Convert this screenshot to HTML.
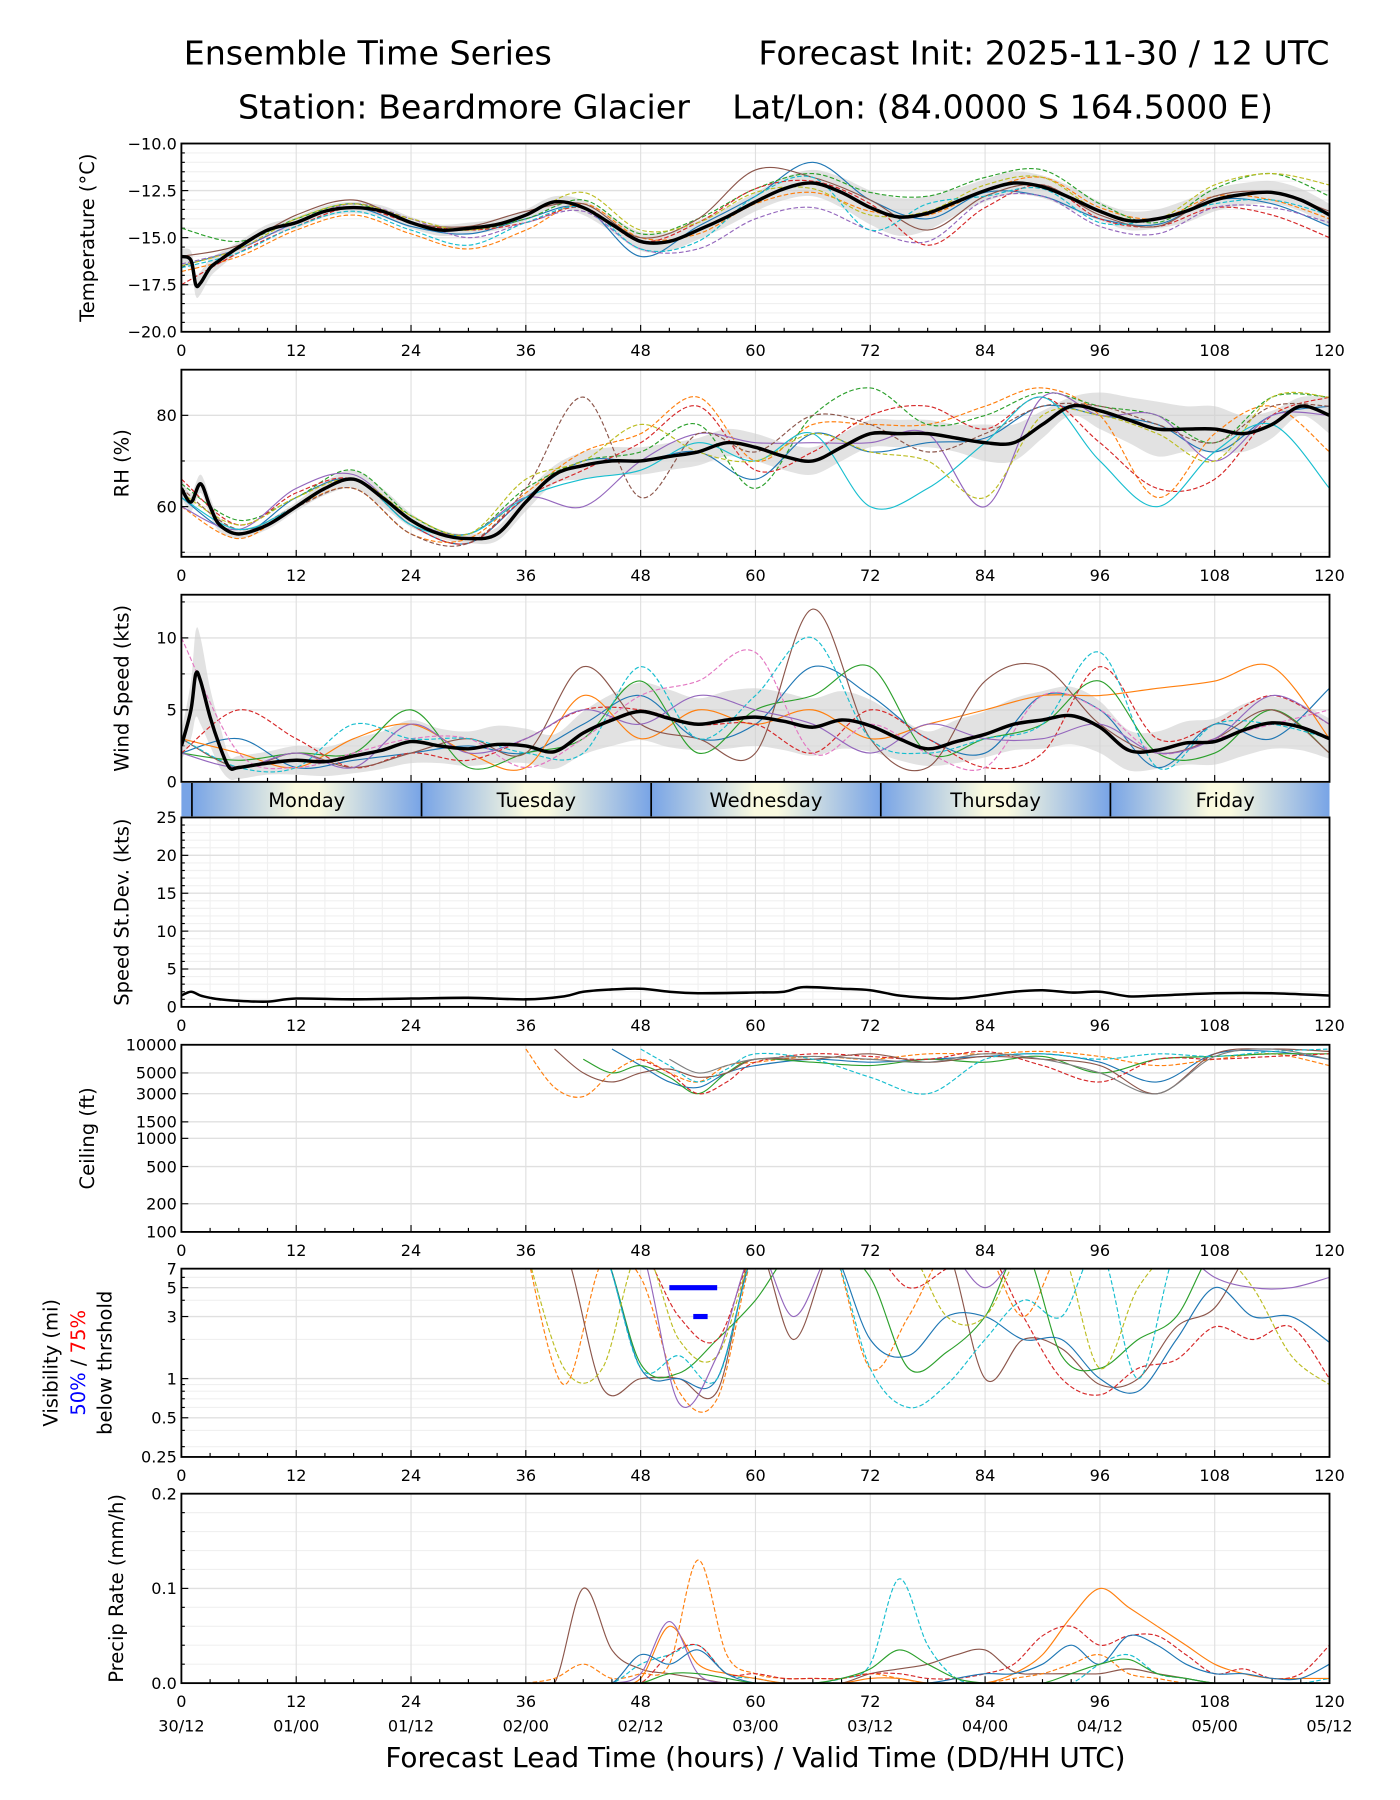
<!DOCTYPE html>
<html><head><meta charset="utf-8"><style>
html,body{margin:0;padding:0;background:#fff;}
svg{display:block;font-family:"DejaVu Sans","Liberation Sans",sans-serif;}
</style></head><body>
<svg id="fig" xmlns="http://www.w3.org/2000/svg" width="1400" height="1800" viewBox="0 0 1219.4 1567.8" preserveAspectRatio="none">
<rect x="0" y="0" width="1220" height="1568" fill="#fff"/>
<defs>
<linearGradient id="dayg" x1="0" x2="1" y1="0" y2="0">
<stop offset="0" stop-color="#78a4e6"/><stop offset="0.45" stop-color="#fafae0"/><stop offset="0.55" stop-color="#fafae0"/><stop offset="1" stop-color="#78a4e6"/>
</linearGradient>
</defs>
<text x="160" y="56" font-size="29">Ensemble Time Series</text>
<text x="1158" y="56" font-size="29" text-anchor="end">Forecast Init: 2025-11-30 / 12 UTC</text>
<text x="658" y="103" font-size="29" text-anchor="middle" xml:space="preserve">Station: Beardmore Glacier    Lat/Lon: (84.0000 S 164.5000 E)</text>
<text x="658" y="1539" font-size="24.3" text-anchor="middle">Forecast Lead Time (hours) / Valid Time (DD/HH UTC)</text>
<g id="plots"></g>
</svg>
<script>
const COLORS=['#1f77b4','#ff7f0e','#2ca02c','#d62728','#9467bd','#8c564b','#e377c2','#7f7f7f','#bcbd22','#17becf'];
// ---------- Data ----------
const xTicks=[0,12,24,36,48,60,72,84,96,108,120];
const dateLabels=['30/12','01/00','01/12','02/00','02/12','03/00','03/12','04/00','04/12','05/00','05/12'];
const dayNames=['Monday','Tuesday','Wednesday','Thursday','Friday'];
const dayStarts=[1.1,25.1,49.1,73.1,97.1,121.1];
const h6=[0,6,12,18,24,30,36,42,48,54,60,66,72,78,84,90,96,102,108,114,120];

const tempHours=[0,1,1.5,2,3,4,6,9,12,15,18,21,24,27,30,33,36,39,42,45,48,51,54,57,60,63,66,69,72,75,78,81,84,87,90,93,96,99,102,105,108,111,114,117,120];
const tempMean=[-16,-16.2,-17.5,-17.4,-16.6,-16.2,-15.5,-14.6,-14.2,-13.6,-13.4,-13.6,-14.2,-14.6,-14.5,-14.3,-13.8,-13.1,-13.4,-14.3,-15.2,-15.2,-14.6,-13.9,-13.1,-12.4,-12.1,-12.6,-13.4,-13.9,-13.7,-13.1,-12.5,-12.1,-12.3,-12.9,-13.6,-14.1,-14.0,-13.6,-13.0,-12.7,-12.6,-13.0,-13.8];
const tempSpread=[0.4,0.5,0.6,0.6,0.5,0.4,0.3,0.3,0.3,0.3,0.3,0.3,0.3,0.3,0.3,0.3,0.3,0.3,0.4,0.4,0.5,0.5,0.5,0.5,0.5,0.6,0.7,0.8,0.9,1.0,0.9,0.7,0.6,0.6,0.6,0.6,0.5,0.5,0.5,0.6,0.6,0.6,0.6,0.6,0.6];
const tempMembers=[
[-16.5,-15.6,-14.2,-13.4,-14.4,-14.8,-14.0,-13.4,-16.0,-14.4,-12.8,-11.0,-13.0,-14.0,-12.6,-12.8,-14.0,-14.3,-13.0,-13.2,-14.4],
[-16.8,-16.0,-14.6,-13.8,-14.8,-15.6,-14.6,-13.2,-15.0,-14.8,-13.2,-12.6,-13.6,-13.8,-12.5,-11.8,-13.4,-14.0,-12.8,-13.0,-14.0],
[-14.5,-15.2,-14.0,-13.2,-14.2,-14.6,-14.0,-13.0,-14.8,-14.0,-12.4,-11.6,-12.6,-12.8,-11.8,-11.4,-13.2,-14.2,-12.4,-11.6,-12.8],
[-17.5,-15.8,-14.4,-13.4,-14.2,-14.6,-14.2,-13.4,-15.2,-14.2,-12.4,-12.0,-13.2,-15.4,-13.4,-12.2,-14.0,-14.4,-13.4,-13.8,-15.0],
[-16.4,-15.6,-14.2,-13.2,-14.0,-15.0,-14.2,-13.6,-15.6,-15.6,-14.0,-13.4,-14.6,-15.2,-13.0,-12.8,-14.4,-14.8,-13.4,-13.4,-14.2],
[-16.0,-15.4,-13.8,-13.0,-14.2,-14.4,-13.6,-13.2,-15.0,-14.0,-11.4,-11.8,-13.0,-14.6,-12.8,-12.2,-13.8,-14.4,-12.8,-12.6,-13.6],
[-16.5,-15.6,-14.0,-13.2,-14.0,-14.6,-13.8,-12.6,-14.6,-14.2,-12.6,-12.4,-13.8,-13.6,-12.2,-11.8,-13.6,-14.0,-12.2,-11.6,-12.2],
[-16.6,-15.8,-14.4,-13.6,-14.6,-15.4,-14.2,-13.4,-15.6,-15.2,-12.8,-11.8,-14.6,-13.2,-12.8,-12.4,-14.2,-14.0,-13.2,-13.0,-13.8]];
const tempColors=[0,1,2,3,4,5,8,9];
const tempDash=[0,1,1,1,1,0,1,1];

const rhHours=[0,1,2,3,4,6,9,12,15,18,21,24,27,30,33,36,39,42,45,48,51,54,57,60,63,66,69,72,75,78,81,84,87,90,93,96,99,102,105,108,111,114,117,120];
const rhMean=[64,61,65,60,56,54,56,60,64,66,62,57,54,53,54,61,67,69,70,70,71,72,74,73,71,70,73,76,76,76,75,74,74,78,82,81,79,77,77,77,76,78,82,80];
const rhSpread=[2,2,2,2,1.5,1,1,1,1.5,2,2,1.5,1,1,1.5,2,2,3,3,3,3,3,3,3,3,3,3,3,3,3,3,4,4,3,2,4,5,6,5,5,4,3,2,4];
const rhMembers=[
[62,54,62,66,56,52,62,70,70,72,66,76,72,74,75,82,80,78,72,80,82],
[60,53,60,64,54,53,63,72,76,84,70,78,78,78,82,86,80,62,76,82,72],
[65,57,62,68,58,54,64,70,72,78,64,80,86,78,80,85,82,80,74,84,84],
[66,56,63,66,56,52,62,68,74,82,68,72,80,82,77,84,74,64,66,80,84],
[60,55,64,67,57,54,62,60,70,76,74,74,74,76,60,84,80,80,70,80,80],
[64,55,60,64,54,52,64,84,62,76,72,80,78,72,76,82,82,78,74,82,82],
[62,55,60,66,56,54,62,66,68,74,70,76,60,64,74,84,70,60,72,78,64],
[63,56,62,66,58,54,66,70,78,72,70,76,72,70,62,80,80,76,70,84,84]];
const rhColors=[0,1,2,3,4,5,9,8];
const rhDash=[0,1,1,1,0,1,0,1];

const windHours=[0,1,1.5,2,3,4,5,6,9,12,15,18,21,24,27,30,33,36,39,42,45,48,51,54,57,60,63,66,69,72,75,78,81,84,87,90,93,96,99,102,105,108,111,114,117,120];
const windMean=[2.5,5,7.5,7,4.5,2.5,1,1,1.3,1.5,1.4,1.8,2.2,2.8,2.5,2.3,2.6,2.5,2.1,3.4,4.3,4.9,4.4,4.0,4.3,4.5,4.2,3.8,4.3,3.9,3.0,2.3,2.8,3.3,4.0,4.3,4.6,3.8,2.2,2.2,2.7,2.8,3.6,4.1,3.8,3.0];
const windSpread=[1,2,3,3,2,1.5,0.8,0.8,0.8,1,1,1.2,1.3,1.5,1.2,1.2,1.3,1.2,1.2,1.5,1.8,2,2,1.8,2,2,2,2,2,1.8,1.5,1.2,1.5,1.6,1.8,2,2,1.8,1.4,1.3,1.5,1.6,1.8,1.8,1.6,1.4];
const windMembers=[
[2,3,1,1.5,2,2.5,2,4,6,3,4,8,6,3,2,6,5,1,4,3,6.5],
[3,2,1,3,4,2,1,6,3,5,4,5,3,4,5,6,6,6.5,7,8,3],
[2,1.5,2,2,5,1,2,3,7,2,5,6,8,2,3,4,7,2,2,5,2],
[2,5,3,1,2,1.5,3,5,5,4,4,2,5,3,1,2,8,3,4,6,4],
[10,2,1,2,3,3,1,3,6,7,9,2,4,2,1,6,5,2,3,4,5],
[3,1,2,1,2,3,2,8,4,3,2,12,3,1,7,8,4,2,3,5,2],
[3,1,1,4,3,3,2,2,8,3,6,10,3,2,3,4,9,1,4,4,3],
[2,1,2,1,4,2,3,5,4,6,5,4,2,4,3,3,4,2,3,6,4]];
const windColors=[0,1,2,3,6,5,9,4];
const windDash=[0,0,0,1,1,0,1,0];

const sdHours=[0,1,2,3,4,6,9,12,18,24,30,36,40,42,45,48,51,54,60,63,65,69,72,75,78,81,84,87,90,93,96,99,102,108,114,120];
const sdValues=[1.5,2,1.5,1.2,1.0,0.8,0.7,1.1,1.0,1.1,1.2,1.0,1.4,2.0,2.3,2.4,2.0,1.8,1.9,2.0,2.6,2.4,2.2,1.5,1.2,1.1,1.5,2.0,2.2,1.9,2.0,1.4,1.5,1.8,1.8,1.5];

const ceilHours=[36,39,42,45,48,51,54,57,60,66,72,78,84,90,96,102,108,114,120];
const ceilMembers=[
[null,null,null,9000,6000,4000,3500,5000,6000,7000,6500,7000,7500,8000,6500,4000,8000,8500,7000],
[9000,3500,2800,5000,7000,5000,4000,6000,6500,7500,7000,8000,8000,8500,7500,6000,7000,8000,6000],
[null,null,7000,5000,6000,4500,3000,5000,7000,6500,6000,7000,6500,7500,5000,7000,7500,8000,8000],
[null,null,null,null,7000,5000,3000,4000,6500,8000,7500,7000,8500,6000,4000,7000,7000,7500,8000],
[null,9000,5000,4000,5000,5500,4500,5000,7000,7000,8000,6500,7500,7000,6000,3000,8000,9000,8500],
[null,null,null,null,9000,6000,4000,5500,8000,7000,4500,3000,7000,8000,7000,8000,7500,8500,9000],
[null,null,null,null,null,7000,5000,6000,7000,7500,7000,6500,8000,7000,5000,3000,7500,9000,7000]];
const ceilColors=[0,1,2,3,5,9,7];
const ceilDash=[0,1,0,1,0,1,0];

const visHours=[36,40,44,48,52,56,60,64,68,72,76,80,84,88,92,96,100,104,108,112,116,120];
const visMembers=[
[10,0.9,8,6,0.8,0.7,10,10,10,1.2,3,10,10,3,10,10,10,10,10,10,10,10],
[10,10,0.85,1.0,1.0,0.8,10,2,10,10,10,10,1.0,2,1.7,0.9,1.0,2.5,3.5,10,10,10],
[10,10,10,1.3,1.1,2,4,10,10,6,1.2,1.6,3,10,1.5,1.2,2,3,10,10,10,10],
[10,10,10,1.2,1.0,1.0,10,10,10,2,1.5,3,3,2,2,1.0,0.8,2,5,3,3,1.9],
[10,10,10,1.2,1.5,1.0,10,10,10,1.2,0.6,0.9,2,4,3,10,1.0,10,10,10,10,10],
[10,10,10,10,3,2,10,10,10,10,5,7,10,3,1.0,0.75,1.2,1.4,2.5,2,2.5,1.0],
[10,1.2,1.2,10,2,1.5,10,10,10,10,10,3,3,10,10,1.2,5,10,10,5,1.5,0.9],
[10,10,10,10,0.65,1.5,10,3,10,10,10,10,5,10,10,10,10,10,6,5,5,6]];
const visColors=[1,5,2,0,9,3,8,4];
const visDash=[1,0,0,0,1,1,1,0];
const vis50Hours=[51,56];
const vis50Value=[5];
const vis75Hours=[53.5,55];
const vis75Value=[3];

const prHours=[36,39,42,45,48,51,54,57,60,63,66,69,72,75,78,81,84,87,90,93,96,99,102,105,108,111,114,117,120];
const prMembers=[
[0,0,0.1,0.035,0.015,0.01,0.005,0,0,0,0,0,0.01,0.015,0.02,0.03,0.035,0.012,0.01,0.01,0.01,0.015,0.01,0.005,0,0,0,0,0],
[0,0.005,0.02,0.005,0.01,0.02,0.13,0.03,0.01,0.005,0.005,0.005,0.01,0.005,0,0,0,0.005,0.01,0.02,0.03,0.01,0.005,0,0,0,0,0,0],
[0,0,0,0,0.02,0.03,0.04,0.01,0.005,0,0,0.005,0.02,0.11,0.04,0.005,0,0,0,0,0.02,0.03,0.01,0.005,0,0,0,0,0.005],
[0,0,0,0,0.005,0.06,0.02,0.01,0.005,0,0,0,0.005,0.005,0,0,0,0.01,0.03,0.07,0.1,0.08,0.06,0.04,0.02,0.01,0.005,0.005,0.005],
[0,0,0,0,0,0.03,0.04,0.01,0.01,0.005,0.005,0.005,0.01,0.01,0.005,0.005,0.01,0.02,0.05,0.06,0.04,0.05,0.05,0.03,0.01,0.015,0.005,0.01,0.04],
[0,0,0,0,0.01,0.065,0.01,0,0,0,0,0,0,0,0,0,0,0,0,0,0,0,0,0,0,0,0,0,0],
[0,0,0,0,0.03,0.02,0.035,0.01,0,0,0,0,0,0,0,0.005,0.01,0.01,0.02,0.04,0.02,0.05,0.04,0.02,0.01,0.01,0.005,0.005,0.02],
[0,0,0,0,0,0.01,0.01,0.005,0,0,0,0.005,0.015,0.035,0.02,0.005,0,0,0,0.01,0.02,0.025,0.01,0.005,0,0,0,0,0]];
const prColors=[5,1,9,1,3,4,0,2];
const prDash=[0,1,1,0,1,0,0,0];

// ---------- Rendering ----------
const NS='http://www.w3.org/2000/svg';
const root=document.getElementById('plots');
const X0=158,X1=1158;
const xs=h=>X0+h*(X1-X0)/120;
function el(tag,attrs,parent){const e=document.createElementNS(NS,tag);for(const k in attrs)e.setAttribute(k,attrs[k]);(parent||root).appendChild(e);return e;}
function smooth(pts){
  if(pts.length<2)return '';
  let d='M'+pts[0][0].toFixed(1)+','+pts[0][1].toFixed(1);
  for(let i=0;i<pts.length-1;i++){
    const p0=pts[i-1]||pts[i],p1=pts[i],p2=pts[i+1],p3=pts[i+2]||p2;
    const c1x=p1[0]+(p2[0]-p0[0])/6,c1y=p1[1]+(p2[1]-p0[1])/6;
    const c2x=p2[0]-(p3[0]-p1[0])/6,c2y=p2[1]-(p3[1]-p1[1])/6;
    d+='C'+c1x.toFixed(1)+','+c1y.toFixed(1)+' '+c2x.toFixed(1)+','+c2y.toFixed(1)+' '+p2[0].toFixed(1)+','+p2[1].toFixed(1);
  }
  return d;
}
function segments(hours,vals,ys){
  const segs=[];let cur=[];
  hours.forEach((h,i)=>{const v=vals[i];if(v===null){if(cur.length)segs.push(cur);cur=[];}else cur.push([xs(h),ys(v)]);});
  if(cur.length)segs.push(cur);
  return segs.map(smooth).join(' ');
}
let clipN=0;
function panel(cfg){
  const g=el('g',{});
  
  
  const H=cfg.y1-cfg.y0;
  let ys;
  if(cfg.log){const a=Math.log(cfg.min),b=Math.log(cfg.max);ys=v=>cfg.y1-(Math.log(v)-a)/(b-a)*H;}
  else ys=v=>cfg.y1-(v-cfg.min)/(cfg.max-cfg.min)*H;
  (cfg.minor||[]).forEach(v=>{el('line',{x1:X0,x2:X1,y1:ys(v),y2:ys(v),stroke:'#f0f0f0','stroke-width':1},g);
    el('line',{x1:X0,x2:X0+3,y1:ys(v),y2:ys(v),stroke:'#000','stroke-width':1},g);});
  if(cfg.vminor){for(let h=3;h<120;h+=3){if(h%12)el('line',{x1:xs(h),x2:xs(h),y1:cfg.y0,y2:cfg.y1,stroke:'#f0f0f0','stroke-width':1},g);}}
  xTicks.forEach(h=>{if(h>0&&h<120)el('line',{x1:xs(h),x2:xs(h),y1:cfg.y0,y2:cfg.y1,stroke:'#e0e0e0','stroke-width':1},g);});
  cfg.ticks.forEach(v=>{const y=ys(v);if(y>cfg.y0+1&&y<cfg.y1-1)el('line',{x1:X0,x2:X1,y1:y,y2:y,stroke:'#e0e0e0','stroke-width':1.2},g);});
  const cid='clip'+(clipN++);
  const cp=el('clipPath',{id:cid},g);el('rect',{x:X0,y:cfg.y0,width:X1-X0,height:H},cp);
  const dg=el('g',{'clip-path':'url(#'+cid+')'},g);
  if(cfg.draw)cfg.draw(dg,ys);
  for(let h=3;h<120;h+=3){const big=h%12===0;
    el('line',{x1:xs(h),x2:xs(h),y1:cfg.y1,y2:cfg.y1-(big?6:3.5),stroke:'#000','stroke-width':1},g);}
  cfg.ticks.forEach(v=>{const y=ys(v);el('line',{x1:X0,x2:X0+6,y1:y,y2:y,stroke:'#000','stroke-width':1},g);
    const t=el('text',{x:X0-4,y:y+5,'font-size':14,'text-anchor':'end'},g);t.textContent=(cfg.fmt?cfg.fmt(v):String(v)).replace('-','\u2212');
    
    });
  el('rect',{x:X0,y:cfg.y0,width:X1-X0,height:H,fill:'none',stroke:'#000','stroke-width':1.6},g);
  if(cfg.xlabels){xTicks.forEach(h=>{const t=el('text',{x:xs(h),y:cfg.y1+21,'font-size':14,'text-anchor':'middle'},g);t.textContent=h;
    
    });}
  if(cfg.label){cfg.label.forEach(l=>{const t=el('text',{transform:'translate('+l.x+','+((cfg.y0+cfg.y1)/2)+') rotate(-90)','font-size':17,'text-anchor':'middle'},g);
    t.innerHTML=l.html;
    
    });}
  return ys;
}
function members(g,ys,hours,list,colors,dash,name){
  list.forEach((m,i)=>{const p=el('path',{d:segments(hours,m,ys),fill:'none',stroke:COLORS[colors[i]],'stroke-width':1,'stroke-dasharray':dash[i]?'4,2':'none'},g);
    
    });
}
function meanBand(g,ys,hours,mean,spread,name){
  const up=hours.map((h,i)=>[xs(h),ys(mean[i]+spread[i])]);
  const lo=hours.map((h,i)=>[xs(h),ys(mean[i]-spread[i])]).reverse();
  const band=el('path',{d:smooth(up)+' L'+smooth(lo).slice(1)+'Z',fill:'#cfcfcf','fill-opacity':0.6,stroke:'none'},g);
  
  
  return ()=>{const p=el('path',{d:segments(hours,mean,ys),fill:'none',stroke:'#000','stroke-width':3},g);
    
    };
}
const mkMinor=(a,b,s)=>{const r=[];for(let v=a;v<=b+1e-9;v+=s)r.push(+v.toFixed(4));return r;};

panel({name:'temperature',y0:125,y1:289,min:-20,max:-10,ticks:[-20,-17.5,-15,-12.5,-10],minor:mkMinor(-20,-10,0.5),fmt:v=>v.toFixed(1),xlabels:true,
  label:[{x:82,html:'Temperature (°C)'}],
  draw:(g,ys)=>{const fin=meanBand(g,ys,tempHours,tempMean,tempSpread,'temperature');members(g,ys,h6,tempMembers,tempColors,tempDash,'temperature');fin();}});
panel({name:'rh',y0:322,y1:485,min:49,max:90,ticks:[60,80],minor:[50,70,90],xlabels:true,
  label:[{x:112,html:'RH (%)'}],
  draw:(g,ys)=>{const fin=meanBand(g,ys,rhHours,rhMean,rhSpread,'rh');members(g,ys,h6,rhMembers,rhColors,rhDash,'rh');fin();}});
panel({name:'wind-speed',y0:518,y1:681,min:0,max:13,ticks:[0,5,10],minor:[2.5,7.5,12.5],xlabels:false,
  label:[{x:112,html:'Wind Speed (kts)'}],
  draw:(g,ys)=>{const fin=meanBand(g,ys,windHours,windMean,windSpread,'wind-speed');members(g,ys,h6,windMembers,windColors,windDash,'wind-speed');fin();}});
(function(){
  const g=el('g',{});
  
  
  el('rect',{x:X0,y:682,width:xs(dayStarts[0])-X0,height:29,fill:'#78a4e6'},g);
  dayNames.forEach((n,i)=>{const a=xs(dayStarts[i]),b=Math.min(X1,xs(dayStarts[i+1]));
    el('rect',{x:a,y:682,width:b-a,height:29,fill:'url(#dayg)'},g);
    el('line',{x1:a,x2:a,y1:682,y2:711,stroke:'#000','stroke-width':1.5},g);
    const t=el('text',{x:(a+xs(dayStarts[i+1]))/2,y:703,'font-size':17,'text-anchor':'middle'},g);t.textContent=n;
    
    });
})();
panel({name:'speed-stdev',y0:712,y1:877,min:0,max:25,ticks:[0,5,10,15,20,25],minor:mkMinor(0,25,1),vminor:true,xlabels:true,
  label:[{x:112,html:'Speed St.Dev. (kts)'}],
  draw:(g,ys)=>{const p=el('path',{d:segments(sdHours,sdValues,ys),fill:'none',stroke:'#000','stroke-width':2.2},g);
    
    }});
panel({name:'ceiling',y0:910,y1:1073,min:100,max:10000,log:true,ticks:[100,200,500,1000,1500,3000,5000,10000],xlabels:true,
  label:[{x:82,html:'Ceiling (ft)'}],
  draw:(g,ys)=>{members(g,ys,ceilHours,ceilMembers,ceilColors,ceilDash,'ceiling');}});
panel({name:'visibility',y0:1105,y1:1269,min:0.25,max:7,log:true,ticks:[0.25,0.5,1,3,5,7],minor:[0.3,0.4,0.6,0.7,0.8,0.9,2,4,6],xlabels:true,
  label:[{x:50,html:'Visibility (mi)'},{x:74,html:'<tspan fill="#0000ff">50%</tspan> / <tspan fill="#ff0000">75%</tspan>'},{x:97,html:'below thrshold'}],
  draw:(g,ys)=>{members(g,ys,visHours,visMembers,visColors,visDash,'visibility');
    const b1=el('line',{x1:xs(vis50Hours[0]),x2:xs(vis50Hours[1]),y1:ys(vis50Value[0]),y2:ys(vis50Value[0]),stroke:'#0000ff','stroke-width':4.5},g);
    
    
    const b2=el('line',{x1:xs(vis75Hours[0]),x2:xs(vis75Hours[1]),y1:ys(vis75Value[0]),y2:ys(vis75Value[0]),stroke:'#0000ff','stroke-width':4.5},g);
    
    }});
panel({name:'precip',y0:1301,y1:1466,min:0,max:0.2,ticks:[0,0.1,0.2],minor:[0.02,0.04,0.06,0.08,0.12,0.14,0.16,0.18],fmt:v=>v.toFixed(1),xlabels:true,
  label:[{x:107,html:'Precip Rate (mm/h)'}],
  draw:(g,ys)=>{members(g,ys,prHours,prMembers,prColors,prDash,'precip');}});
dateLabels.forEach((d,i)=>{const t=el('text',{x:xs(xTicks[i]),y:1508,'font-size':14,'text-anchor':'middle'});t.textContent=d;
  
  });
</script>
</body></html>
